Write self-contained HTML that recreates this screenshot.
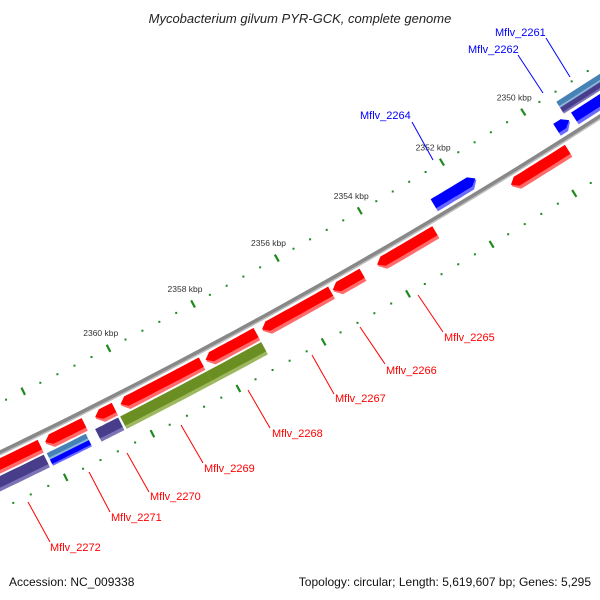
<!DOCTYPE html>
<html><head><meta charset="utf-8"><style>
html,body{margin:0;padding:0;background:#fff;}
svg{display:block;font-family:"Liberation Sans",sans-serif;}
</style></head><body>
<svg id="chart" width="600" height="600" viewBox="0 0 600 600">
<rect width="600" height="600" fill="#fff"/>
<text x="300" y="23" text-anchor="middle" font-size="13" font-style="italic" fill="#222">Mycobacterium gilvum PYR-GCK, complete genome</text>
<g id="ticks"></g>
<g id="backbone"></g>
<g id="genes"></g>
<g id="labels" font-size="11">
 <g stroke="#ff0000" stroke-width="1">
  <line x1="443" y1="332" x2="418" y2="295"/>
  <line x1="385" y1="364" x2="360" y2="327"/>
  <line x1="334" y1="394" x2="312" y2="355"/>
  <line x1="270" y1="428" x2="248" y2="390"/>
  <line x1="203" y1="463" x2="181" y2="425"/>
  <line x1="149" y1="492" x2="127" y2="453"/>
  <line x1="110" y1="512" x2="89" y2="472"/>
  <line x1="50" y1="542" x2="28" y2="502"/>
 </g>
 <g fill="#ff0000">
  <text x="444" y="341">Mflv_2265</text>
  <text x="386" y="374">Mflv_2266</text>
  <text x="335" y="402">Mflv_2267</text>
  <text x="272" y="437">Mflv_2268</text>
  <text x="204" y="472">Mflv_2269</text>
  <text x="150" y="500">Mflv_2270</text>
  <text x="111" y="521">Mflv_2271</text>
  <text x="50" y="551">Mflv_2272</text>
 </g>
 <g stroke="#0000ff" stroke-width="1">
  <line x1="546" y1="38" x2="570" y2="77"/>
  <line x1="518" y1="55" x2="543" y2="93"/>
  <line x1="412" y1="122" x2="433" y2="160"/>
 </g>
 <g fill="#0000ff">
  <text x="495" y="36">Mflv_2261</text>
  <text x="468" y="53">Mflv_2262</text>
  <text x="360" y="119">Mflv_2264</text>
 </g>
</g>
<text x="9" y="586" font-size="12" fill="#111">Accession: NC_009338</text>
<text x="591" y="586" font-size="12" fill="#111" text-anchor="end">Topology: circular; Length: 5,619,607 bp; Genes: 5,295</text>
</svg>
<script>
const majorTicks = [2346, 2348, 2350, 2352, 2354, 2356, 2358, 2360, 2362, 2364];
const tickLabels = ["2346 kbp","2348 kbp","2350 kbp","2352 kbp","2354 kbp","2356 kbp","2358 kbp","2360 kbp","2362 kbp","2364 kbp"];
const labelledTicks = [2350, 2352, 2354, 2356, 2358, 2360];
const geneStart = [2349.63, 2352.86, 2354.61, 2355.36, 2357.13, 2358.42, 2360.46, 2361.16, 2362.18, 2357.13, 2358.41, 2360.48, 2361.23, 2361.23, 2362.2, 2351.58, 2349.28, 2346.0, 2346.0, 2346.0];
const geneEnd   = [2351.02, 2354.25, 2355.31, 2356.99, 2358.32, 2360.31, 2360.90, 2362.06, 2364.0, 2358.41, 2360.43, 2361.01, 2362.13, 2362.13, 2364.0, 2352.60, 2349.60, 2349.16, 2349.30, 2349.30];
const geneRow   = ["o1","o1","o1","o1","o1","o1","o1","o1","o1","o2","o2","o2","o2a","o2b","o2","i1","i1","i1","i2a","i2b"];
const geneColor = ["red","red","red","red","red","red","red","red","red","green","green","purple","steel","blue","purple","blue","blue","blue","steel","purple"];
const geneDir   = ["hi","hi","hi","hi","hi","hi","hi","hi","hi","none","none","none","none","none","none","lo","lo","lo","none","none"];

const CX=-2455, CY=-4635, R0=5649, T0=1.0616, K=0.00852;
const ROWS={o1:[5,19],o2:[21,35],o2a:[21,28],o2b:[28,35],i1:[-19,-5],i2a:[-36,-29],i2b:[-29,-22]};
const COLORS={red:["#ff0000","#ff6a6a"],green:["#6b8e23","#9db85e"],purple:["#483d8b","#7c73b6"],steel:["#4682b4","#86b4dc"],blue:["#0000ff","#6a6aff"]};
const NS="http://www.w3.org/2000/svg";
function pt(k,d){const t=T0+(k-2356)*K, r=R0+d;return [CX+r*Math.cos(t), CY+r*Math.sin(t)];}
function mk(tag,attrs,parent){const e=document.createElementNS(NS,tag);for(const a in attrs)e.setAttribute(a,attrs[a]);parent.appendChild(e);return e;}
function f(p){return p[0].toFixed(1)+","+p[1].toFixed(1);}

// ticks
const tg=document.getElementById("ticks");
for(let i=0;i<=50;i++){
  const k=2344+i*0.4;
  const isMajor=majorTicks.some(m=>Math.abs(m-k)<0.01);
  [-45,51].forEach(function(d){
    if(isMajor){
      const a=pt(k,d-4), b=pt(k,d+4);
      const l=mk("line",{x1:a[0],y1:a[1],x2:b[0],y2:b[1],stroke:"#1e8a1e","stroke-width":2.2},tg);
      
      
    }else{
      const c=pt(k,d);
      const r=mk("rect",{x:c[0]-1,y:c[1]-1,width:2,height:2,fill:"#1e8a1e"},tg);
      
      
    }
  });
}
labelledTicks.forEach(function(k){
  const idx=majorTicks.indexOf(k);
  const c=pt(k,-62);
  const t=mk("text",{x:c[0],y:c[1]+3,"text-anchor":"middle","font-size":"8.5",fill:"#333"},tg);
  t.textContent=tickLabels[idx];
  
  
});

// backbone
const bg=document.getElementById("backbone");
function arcPath(d,k1,k2){let s="";for(let i=0;i<=60;i++){const k=k1+(k2-k1)*i/60;s+=(i?"L":"M")+f(pt(k,d));}return s;}
const b1=mk("path",{d:arcPath(0,2344,2366),stroke:"#888",fill:"none","stroke-width":4.5},bg);


const b2=mk("path",{d:arcPath(2,2344,2366),stroke:"#bdbdbd",fill:"none","stroke-width":1.5},bg);



// genes
function shape(a,b,d1,d2,dir){
  const hk=0.14, m=(d1+d2)/2, n=10; let p=[];
  const s=dir==="lo"?a+hk:a, e=dir==="hi"?b-hk:b;
  for(let i=0;i<=n;i++)p.push(pt(s+(e-s)*i/n,d1));
  if(dir==="hi")p.push(pt(b,m));
  for(let i=n;i>=0;i--)p.push(pt(s+(e-s)*i/n,d2));
  if(dir==="lo")p.push(pt(a,m));
  return p.map(f).join(" ");
}
const gg=document.getElementById("genes");
for(let i=0;i<geneStart.length;i++){
  const r=ROWS[geneRow[i]], c=COLORS[geneColor[i]];
  const half=(r[1]-r[0])<10;
  const g=mk("g",{},gg);
  
  
  mk("polygon",{points:shape(geneStart[i],geneEnd[i],r[0],r[1],geneDir[i]),fill:c[1]},g);
  mk("polygon",{points:shape(geneStart[i],geneEnd[i],r[0],r[1]-(half?2:3.5),geneDir[i]),fill:c[0]},g);
}
</script>
</body></html>
